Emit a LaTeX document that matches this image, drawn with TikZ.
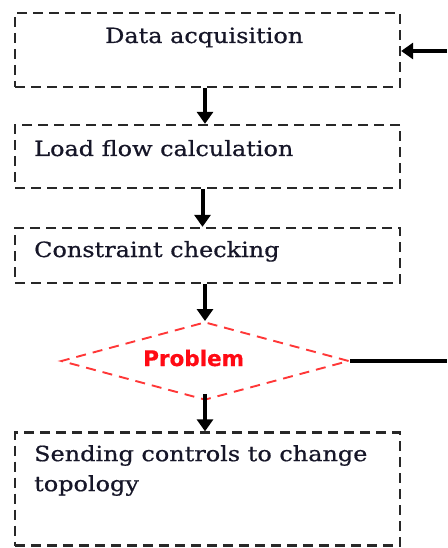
\documentclass[tikz,border=0pt]{standalone}
\usepackage{fontspec}
\setmainfont{DejaVu Serif}[FakeStretch=1.14,FakeBold=0.7]
\newfontfamily\probfont{DejaVu Sans}[FakeBold=0.5]
\usetikzlibrary{arrows.meta,shapes.geometric}
\definecolor{textc}{RGB}{22,22,40}
\definecolor{boxc}{RGB}{40,40,40}
\definecolor{probc}{RGB}{255,10,20}
\definecolor{diac}{RGB}{255,55,55}
\tikzset{
  stepbox/.style={draw=boxc, line width=2.3pt, dash pattern=on 10pt off 6pt, rectangle, minimum width=385pt, inner sep=0pt},
  lbl/.style={font=\fontsize{21}{30}\selectfont, text=textc, inner sep=0pt},
  arr/.style={line width=4pt, -{Triangle[width=16pt,length=12pt]}},
}
\begin{document}
\begin{tikzpicture}[x=1pt,y=-1pt]
\useasboundingbox (0,0) rectangle (447,548);
\node[stepbox, minimum height=74pt] (b1) at (207.5,50) {};
\node[stepbox, minimum height=63pt] (b2) at (207.5,156.5) {};
\node[stepbox, minimum height=55pt] (b3) at (207.5,255.5) {};
\node[stepbox, minimum height=113pt] (b4) at (207.5,489) {};
\node[diamond, draw=diac, line width=1.9pt, dash pattern=on 10pt off 7pt, minimum width=288pt, minimum height=78pt, aspect=3.7, inner sep=0pt] (dia) at (205,361) {};
\node[lbl, anchor=base west] (t1) at (105,43) {Data acquisition};
\node[lbl, anchor=base west] (t2) at (34,156) {Load flow calculation};
\node[lbl, anchor=base west] (t3) at (34,257) {Constraint checking};
\node[lbl, anchor=north west, align=left] (t4) at (34,445) {Sending controls to change\\topology};
\node[font=\probfont\bfseries\fontsize{21.5}{26}\selectfont, text=probc, inner sep=0pt, anchor=base west] (tp) at (143,366) {Problem};
\coordinate (in1) at (447,51);
\coordinate (out1) at (447,361);
\draw[arr] (in1) -- (b1.east |- in1);
\draw[arr] ([xshift=-2.5pt]b1.south) -- ([xshift=-2.5pt]b2.north);
\draw[arr] ([xshift=-5pt]b2.south) -- ([xshift=-5pt]b3.north);
\draw[arr] ([xshift=-2.5pt]b3.south) -- (dia.north);
\draw[arr] ([yshift=7pt]dia.south) -- ([xshift=-2.5pt]b4.north);
\draw[line width=3.5pt] (dia.east) -- (out1);
\end{tikzpicture}
\end{document}
